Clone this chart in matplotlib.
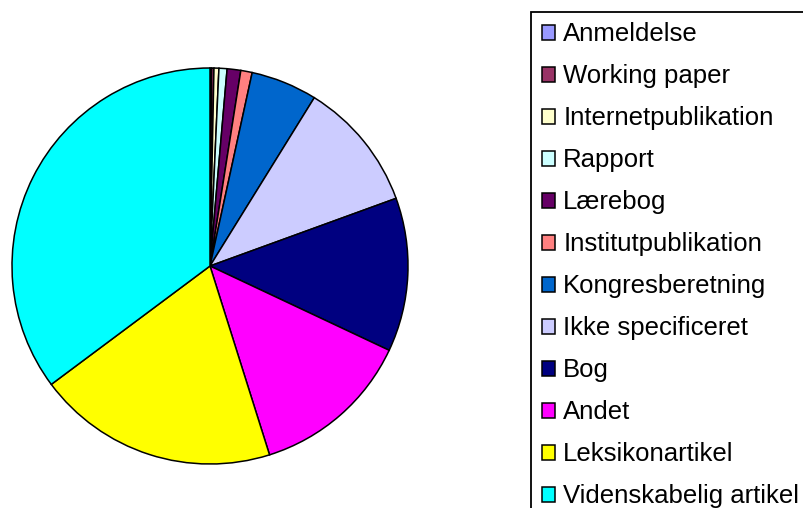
import matplotlib
matplotlib.use("Agg")
import matplotlib.pyplot as plt
from matplotlib.patches import Patch

plt.rcParams['font.family'] = ['Liberation Sans', 'DejaVu Sans']

# publikationstyper, andel i procent
kategorier = ["Anmeldelse", "Working paper", "Internetpublikation", "Rapport",
              "Lærebog", "Institutpublikation", "Kongresberetning",
              "Ikke specificeret", "Bog", "Andet", "Leksikonartikel",
              "Videnskabelig artikel"]
andele = [0.13, 0.19, 0.40, 0.66, 1.11, 0.93, 5.41, 10.62, 12.55, 13.14, 19.66, 35.2]
farver = ["#9999FF", "#993366", "#FFFFCC", "#CCFFFF", "#660066", "#FF8080",
          "#0066CC", "#CCCCFF", "#000080", "#FF00FF", "#FFFF00", "#00FFFF"]

W, H = 804, 508
fig = plt.figure(figsize=(W / 100, H / 100), dpi=100)

cx, cy, r = 210, 266, 198
ax = fig.add_axes([(cx - r) / W, (H - cy - r) / H, 2 * r / W, 2 * r / H])
ax.pie(andele, colors=farver, startangle=90, counterclock=False,
       wedgeprops=dict(edgecolor='black', linewidth=1.1))
ax.set_xlim(-1, 1)
ax.set_ylim(-1, 1)
ax.set_aspect('equal')

handles = [Patch(facecolor=c, edgecolor='black', linewidth=1.1) for c in farver]
leg = fig.legend(handles, kategorier, loc='upper left',
                 bbox_to_anchor=(531 / W, 1 - 11.5 / H), borderaxespad=0,
                 fontsize=18.5, frameon=True, fancybox=False, framealpha=1,
                 edgecolor='black', borderpad=0.42, handlelength=0.52,
                 handleheight=0.52, handletextpad=0.32, labelspacing=0.70)
leg.get_frame().set_linewidth(1.3)

fig.savefig("out.png", dpi=100)
